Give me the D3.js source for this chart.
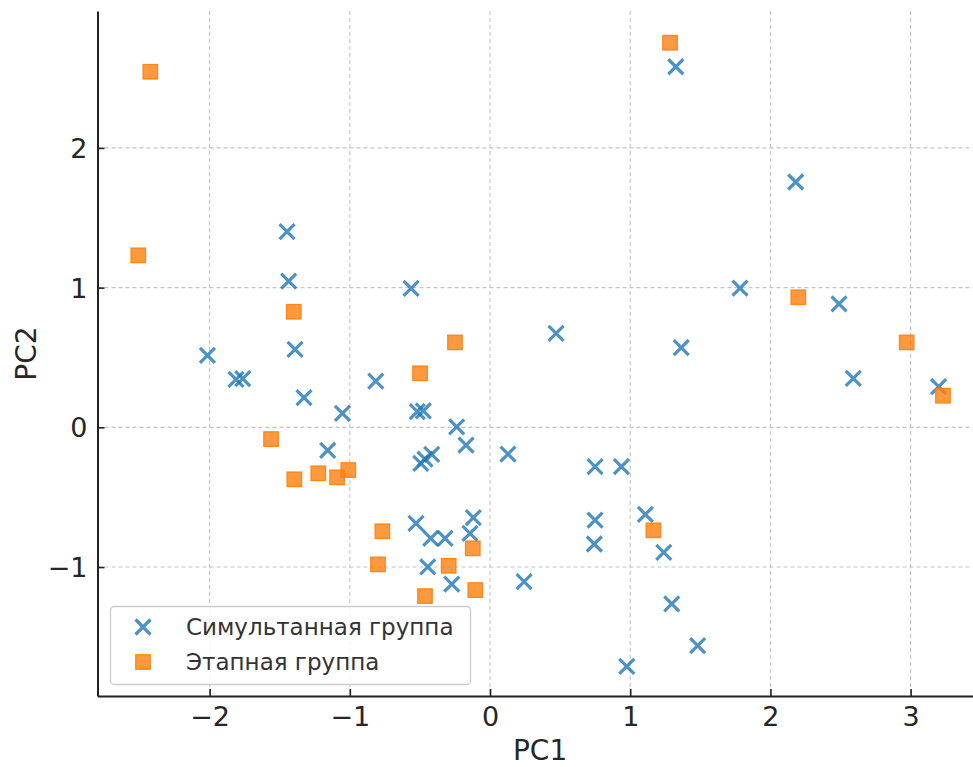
<!DOCTYPE html>
<html><head><meta charset="utf-8">
<script src="https://cdn.jsdelivr.net/npm/d3@7"></script>
<style>body{margin:0;background:#fff}svg{display:block}text{font-family:"DejaVu Sans",sans-serif}</style>
</head><body>
<svg id="c" width="973" height="767"></svg>
<script>
const simX = [-1.448,-1.436,-0.563,-1.391,-2.016,-1.812,-1.764,-0.815,-1.327,-1.053,-0.519,-0.476,-0.238,-0.171,-0.494,-0.464,-0.416,-1.158,0.128,-0.528,-0.423,-0.321,-0.119,-0.143,-0.444,-0.273,0.243,1.325,2.180,1.783,2.489,0.471,1.364,2.591,3.200,0.749,0.937,1.108,0.749,0.744,1.239,1.296,1.481,0.975];
const simY = [1.400,1.047,0.995,0.558,0.515,0.344,0.348,0.331,0.212,0.100,0.112,0.117,0.004,-0.127,-0.258,-0.227,-0.193,-0.165,-0.191,-0.687,-0.795,-0.795,-0.647,-0.759,-0.998,-1.122,-1.105,2.581,1.756,0.997,0.883,0.673,0.570,0.351,0.291,-0.282,-0.282,-0.623,-0.664,-0.835,-0.895,-1.263,-1.563,-1.711];
const stgX = [-2.423,-2.509,-1.400,-0.250,-0.499,-1.562,-1.396,-1.225,-1.091,-1.011,-0.768,-0.799,-0.295,-0.123,-0.464,-0.105,1.284,2.199,2.972,3.231,1.165];
const stgY = [2.545,1.231,0.827,0.608,0.387,-0.084,-0.372,-0.329,-0.358,-0.306,-0.744,-0.981,-0.991,-0.866,-1.208,-1.165,2.753,0.931,0.608,0.226,-0.737];
const xTicks = [-2,-1,0,1,2,3];
const yTicks = [-1,0,1,2];
const seriesNames = ["Симультанная группа","Этапная группа"];
const xLabel = "PC1", yLabel = "PC2";

const svg = d3.select("#c");
const L=97.5, R=973, T=11, B=696;
const x = d3.scaleLinear().domain([-2.8,3.445]).range([L,R]);
const y = d3.scaleLinear().domain([-1.923,2.98]).range([B,T]);
const blue="#1f77b4", orange="#ff7f0e";

// grid
const g = svg.append("g");
g.selectAll(".gx").data(xTicks).join("line")
 .attr("x1",d=>x(d)).attr("x2",d=>x(d)).attr("y1",T).attr("y2",B)
 .attr("stroke","#c4c4c4").attr("stroke-width",1.1).attr("stroke-dasharray","4,3");
g.selectAll(".gy").data(yTicks).join("line")
 .attr("y1",d=>y(d)).attr("y2",d=>y(d)).attr("x1",L).attr("x2",R)
 .attr("stroke","#c4c4c4").attr("stroke-width",1.1).attr("stroke-dasharray","4,3");

// axes
const fmt = d3.format("d");
const xa = svg.append("g").attr("transform",`translate(0,${B})`)
 .call(d3.axisBottom(x).tickValues(xTicks).tickFormat(fmt).tickSizeInner(-7).tickSizeOuter(0).tickPadding(12));
const ya = svg.append("g").attr("transform",`translate(${L},0)`)
 .call(d3.axisLeft(y).tickValues(yTicks).tickFormat(fmt).tickSizeInner(-7).tickSizeOuter(0).tickPadding(10));
[xa,ya].forEach(a=>{
  a.select(".domain").attr("stroke","#222").attr("stroke-width",2);
  a.selectAll(".tick line").attr("stroke","#222").attr("stroke-width",1.6);
  a.selectAll(".tick text").attr("font-size",27).attr("fill","#262626").attr("font-family","DejaVu Sans");
});
xa.selectAll(".tick text").attr("dy",null).attr("y",null).attr("transform","translate(0,30)");
ya.selectAll(".tick text").attr("dy","0.35em").attr("x",-10);

svg.append("text").attr("x",x(0.357)).attr("y",760).attr("text-anchor","middle")
 .attr("font-size",28).attr("fill","#262626").text(xLabel);
svg.append("text").attr("transform",`translate(36,${(T+B)/2}) rotate(-90)`).attr("text-anchor","middle")
 .attr("font-size",28).attr("fill","#262626").text(yLabel);

// markers
const sx = 7.5;
function cross(sel){
  sel.append("path").attr("d",`M${-sx},${-sx}L${sx},${sx}M${-sx},${sx}L${sx},${-sx}`)
   .attr("stroke",blue).attr("stroke-opacity",0.8).attr("stroke-width",3.2).attr("fill","none");
}
const sim = simX.map((v,i)=>({x:v,y:simY[i]}));
const stg = stgX.map((v,i)=>({x:v,y:stgY[i]}));
svg.append("g").selectAll("g").data(sim).join("g")
 .attr("transform",d=>`translate(${x(d.x)},${y(d.y)})`).each(function(){cross(d3.select(this));});
const sq=14.5;
svg.append("g").selectAll("rect").data(stg).join("rect")
 .attr("x",d=>x(d.x)-sq/2).attr("y",d=>y(d.y)-sq/2).attr("width",sq).attr("height",sq)
 .attr("fill",orange).attr("fill-opacity",0.8).attr("stroke",orange).attr("stroke-opacity",0.9).attr("stroke-width",1.3);

// legend
const lg = svg.append("g");
lg.append("rect").attr("x",110.5).attr("y",606.5).attr("width",360).attr("height",78).attr("rx",4)
 .attr("fill","#fff").attr("fill-opacity",0.8).attr("stroke","#cccccc").attr("stroke-width",1.3);
const r1 = lg.append("g").attr("transform","translate(143,627)"); cross(r1);
lg.append("rect").attr("x",143-sq/2).attr("y",662-sq/2).attr("width",sq).attr("height",sq)
 .attr("fill",orange).attr("fill-opacity",0.8).attr("stroke",orange).attr("stroke-opacity",0.9).attr("stroke-width",1.3);
lg.selectAll("text.l").data(seriesNames).join("text")
 .attr("x",186).attr("y",(d,i)=>627+i*35).attr("dy","0.35em").attr("font-size",23).attr("fill","#333").text(d=>d);
</script>
</body></html>
